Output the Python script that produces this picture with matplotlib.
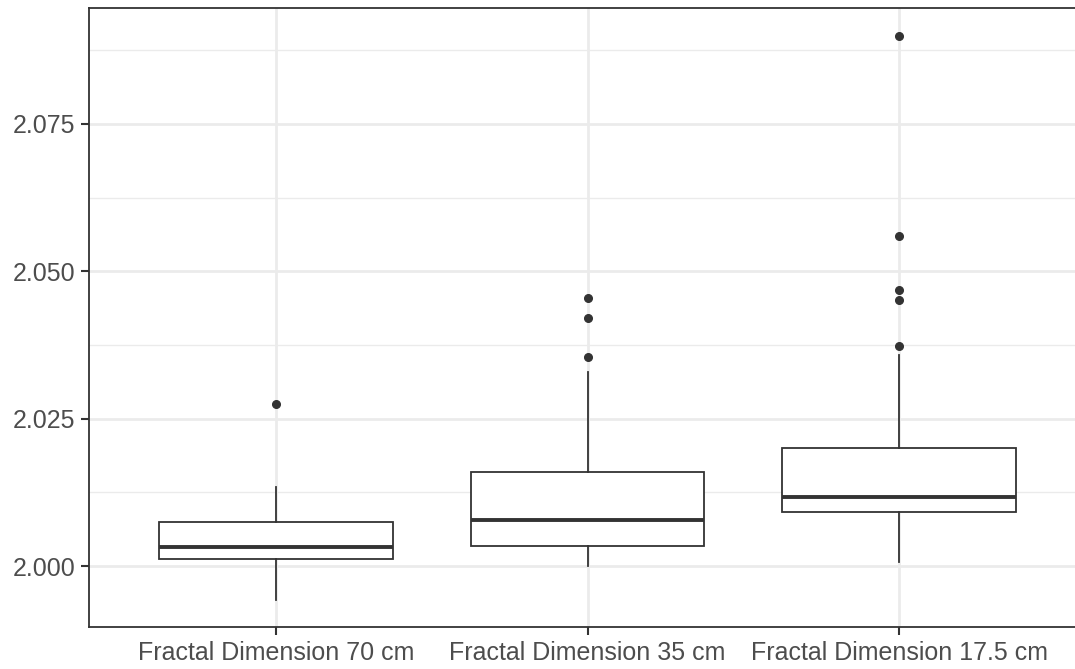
"""Box plots of fractal dimension at three sampling resolutions."""
import matplotlib

matplotlib.use("Agg")
import matplotlib.pyplot as plt
from matplotlib.ticker import MultipleLocator

labels = ["Fractal Dimension 70 cm", "Fractal Dimension 35 cm", "Fractal Dimension 17.5 cm"]
whisker_low = [1.9942, 2.0000, 2.0007]
q1 = [2.0012, 2.0034, 2.0092]
median = [2.0032, 2.0078, 2.0117]
q3 = [2.0075, 2.0160, 2.0200]
whisker_high = [2.0134, 2.0329, 2.0358]
outliers = [
    [2.0275],
    [2.0455, 2.0421, 2.0355],
    [2.0899, 2.0560, 2.0468, 2.0451, 2.0373],
]

INK = "#333333"

stats = []
for i, lab in enumerate(labels):
    stats.append({
        "label": lab,
        "whislo": whisker_low[i],
        "q1": q1[i],
        "med": median[i],
        "q3": q3[i],
        "whishi": whisker_high[i],
        "fliers": outliers[i],
    })

plt.rcParams["font.family"] = ["Liberation Sans", "DejaVu Sans"]

fig = plt.figure(figsize=(10.75, 6.69), dpi=100)
ax = fig.add_axes([89 / 1075, 42 / 669, 997 / 1075, 619 / 669])

ax.bxp(
    stats,
    positions=[1, 2, 3],
    widths=0.75,
    showcaps=False,
    patch_artist=True,
    boxprops=dict(facecolor="white", edgecolor=INK, linewidth=1.3),
    whiskerprops=dict(color=INK, linewidth=1.3),
    medianprops=dict(color=INK, linewidth=2.8, solid_capstyle="butt"),
    flierprops=dict(marker="o", markersize=5.5, markerfacecolor=INK,
                    markeredgecolor=INK, linestyle="none"),
    zorder=3,
)

ax.set_xlim(0.4, 3.6)
ax.set_ylim(1.98965, 2.09468)
ax.yaxis.set_major_locator(MultipleLocator(0.025))
ax.yaxis.set_minor_locator(MultipleLocator(0.0125))
ax.set_yticks([2.000, 2.025, 2.050, 2.075])
ax.set_yticklabels(["2.000", "2.025", "2.050", "2.075"])
ax.set_xticks([1, 2, 3])
ax.set_xticklabels(labels)

ax.grid(which="major", color="#ebebeb", linewidth=2.0, zorder=0)
ax.grid(which="minor", axis="y", color="#ebebeb", linewidth=1.0, zorder=0)
ax.set_axisbelow(True)

for sp in ax.spines.values():
    sp.set_color(INK)
    sp.set_linewidth(1.3)

ax.tick_params(axis="both", which="major", length=6, width=1.5, color=INK,
               labelcolor="#4d4d4d", labelsize=18, pad=4)
ax.tick_params(axis="y", which="minor", length=0)

fig.savefig("out.png", dpi=100)
